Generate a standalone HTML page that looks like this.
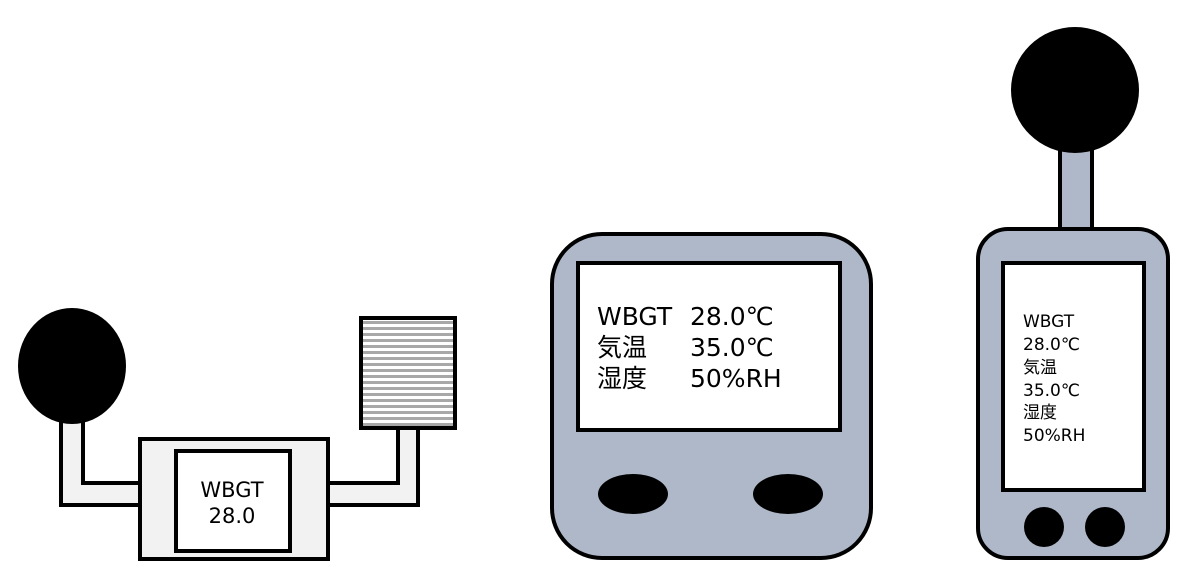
<!DOCTYPE html>
<html><head><meta charset="utf-8"><style>body{margin:0;background:#fff}svg{display:block}text{font-family:"DejaVu Sans","Noto Sans CJK JP",sans-serif;fill:#000}</style></head><body>
<svg width="1189" height="565" viewBox="0 0 1189 565" xmlns="http://www.w3.org/2000/svg">
<defs><pattern id="st" width="6" height="6" patternUnits="userSpaceOnUse"><rect width="6" height="6" fill="#fff"/><rect y="3" width="6" height="3" fill="#a8a8a8"/></pattern></defs>
<path d="M61,420 L61,505 L142,505 L142,483 L83,483 L83,420 Z" fill="#f2f2f2" stroke="#000" stroke-width="4"/>
<ellipse cx="72" cy="366" rx="54" ry="58" fill="#000"/>
<path d="M326,483 L398,483 L398,428 L418,428 L418,505 L326,505 Z" fill="#f2f2f2" stroke="#000" stroke-width="4"/>
<rect x="361" y="318" width="94" height="110" fill="url(#st)" stroke="#000" stroke-width="4"/>
<rect x="140" y="439" width="188" height="120" fill="#f2f2f2" stroke="#000" stroke-width="4"/>
<rect x="176" y="451" width="114" height="100" fill="#fff" stroke="#000" stroke-width="4"/>
<text x="232" y="497" font-size="21" text-anchor="middle">WBGT</text>
<text x="232" y="523" font-size="21" text-anchor="middle">28.0</text>
<rect x="552" y="234" width="319" height="324" rx="50" fill="#aeb8c9" stroke="#000" stroke-width="4"/>
<rect x="578" y="263" width="262" height="167" fill="#fff" stroke="#000" stroke-width="4"/>
<g font-size="25"><text x="597" y="325">WBGT</text><text x="690" y="325">28.0℃</text>
<text x="597" y="356">気温</text><text x="690" y="356">35.0℃</text>
<text x="597" y="387">湿度</text><text x="690" y="387">50%RH</text></g>
<ellipse cx="633" cy="494" rx="35" ry="20" fill="#000"/>
<ellipse cx="788" cy="494" rx="35" ry="20" fill="#000"/>
<rect x="1060" y="147" width="32" height="84" rx="3" fill="#aeb8c9" stroke="#000" stroke-width="4"/>
<ellipse cx="1075" cy="90" rx="64" ry="63" fill="#000"/>
<rect x="978" y="229" width="190" height="329" rx="30" fill="#aeb8c9" stroke="#000" stroke-width="4"/>
<rect x="1003" y="263" width="141" height="227" fill="#fff" stroke="#000" stroke-width="4"/>
<g font-size="17"><text x="1023" y="327">WBGT</text><text x="1023" y="350">28.0℃</text><text x="1023" y="373">気温</text><text x="1023" y="396">35.0℃</text><text x="1023" y="418">湿度</text><text x="1023" y="441">50%RH</text></g>
<circle cx="1044" cy="527" r="20" fill="#000"/>
<circle cx="1105" cy="527" r="20" fill="#000"/>
</svg>
</body></html>
